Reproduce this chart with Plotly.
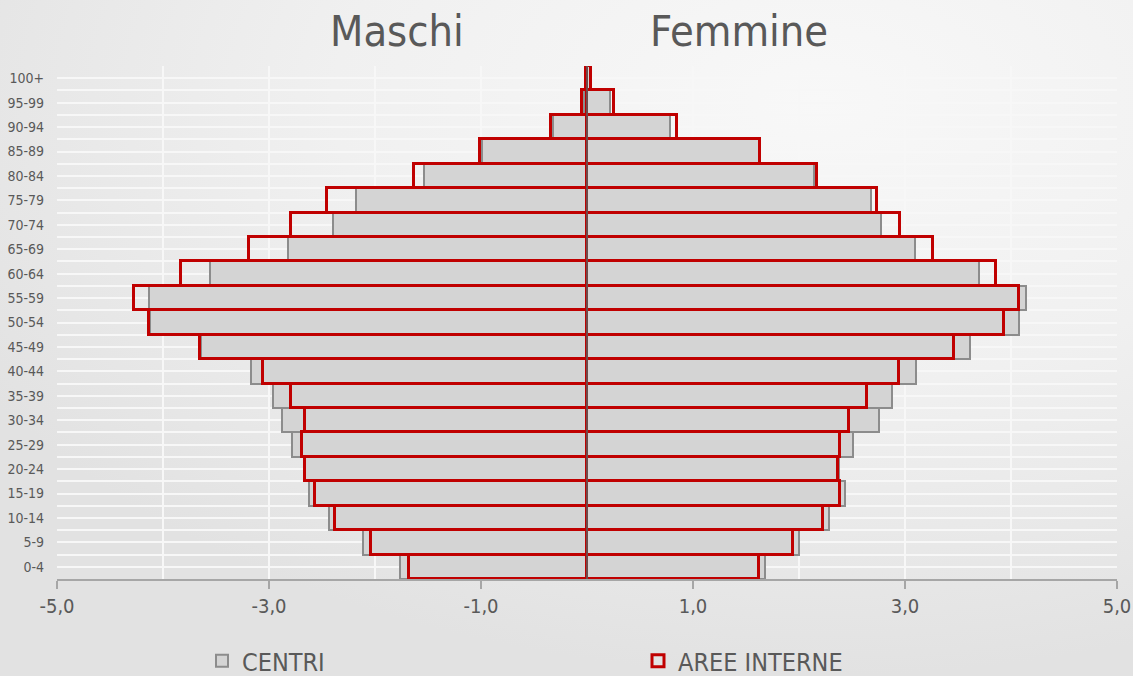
import plotly.graph_objects as go

# classi di eta', dal basso verso l'alto
eta = ["0-4", "5-9", "10-14", "15-19", "20-24", "25-29", "30-34", "35-39", "40-44",
       "45-49", "50-54", "55-59", "60-64", "65-69", "70-74", "75-79", "80-84",
       "85-89", "90-94", "95-99", "100+"]

# valori percentuali (maschi negativi)
centri_m = [-1.76, -2.11, -2.43, -2.62, -2.67, -2.78, -2.88, -2.96, -3.17, -3.64,
            -4.12, -4.13, -3.56, -2.82, -2.40, -2.18, -1.54, -0.99, -0.32, -0.03, -0.01]
centri_f = [1.68, 2.00, 2.28, 2.43, 2.38, 2.51, 2.75, 2.88, 3.10, 3.61,
            4.08, 4.14, 3.70, 3.09, 2.77, 2.68, 2.14, 1.62, 0.78, 0.22, 0.03]
aree_m = [-1.68, -2.04, -2.38, -2.57, -2.66, -2.69, -2.66, -2.79, -3.06, -3.65,
          -4.13, -4.27, -3.83, -3.19, -2.79, -2.45, -1.63, -1.01, -0.34, -0.05, -0.01]
aree_f = [1.62, 1.94, 2.23, 2.39, 2.37, 2.39, 2.47, 2.64, 2.94, 3.46,
          3.93, 4.08, 3.86, 3.26, 2.95, 2.74, 2.17, 1.63, 0.85, 0.25, 0.04]

xticks = [-5, -3, -1, 1, 3, 5]
xlabels = ["-5,0", "-3,0", "-1,0", "1,0", "3,0", "5,0"]

font = "Liberation Sans Narrow, DejaVu Sans Condensed, Arial Narrow, sans-serif"
testo = "#595959"
pos = list(range(len(eta)))

fig = go.Figure()

fig.add_trace(go.Bar(y=pos, x=centri_m, orientation="h", name="CENTRI", legend="legend",
                     marker=dict(color="#d4d4d4", line=dict(color="#8c8c8c", width=2))))
fig.add_trace(go.Bar(y=pos, x=centri_f, orientation="h", name="CENTRI", showlegend=False,
                     marker=dict(color="#d4d4d4", line=dict(color="#8c8c8c", width=2))))
fig.add_trace(go.Bar(y=pos, x=aree_m, orientation="h", name="AREE INTERNE", legend="legend2",
                     marker=dict(color="rgba(0,0,0,0)", line=dict(color="#c00000", width=3))))
fig.add_trace(go.Bar(y=pos, x=aree_f, orientation="h", name="AREE INTERNE", showlegend=False,
                     marker=dict(color="rgba(0,0,0,0)", line=dict(color="#c00000", width=3))))

# sfondo sfumato
sfondo = ("data:image/svg+xml;utf8,<svg xmlns='http://www.w3.org/2000/svg' width='1133' height='676'>"
          "<defs><radialGradient id='g' cx='0.72' cy='0.15' r='0.85'>"
          "<stop offset='0' stop-color='%23f8f8f8'/><stop offset='0.5' stop-color='%23f0f0f0'/>"
          "<stop offset='1' stop-color='%23e2e2e2'/></radialGradient></defs>"
          "<rect width='1133' height='676' fill='url(%23g)'/></svg>")

L, R, T, B = 57, 16, 66, 97
pw, ph = 1133 - L - R, 676 - T - B

fig.update_layout(
    width=1133, height=676,
    margin=dict(l=L, r=R, t=T, b=B),
    barmode="overlay", bargap=0,
    paper_bgcolor="#ececec", plot_bgcolor="rgba(0,0,0,0)",
    font=dict(family=font, color=testo),
    images=[dict(source=sfondo, xref="paper", yref="paper",
                 x=-L / pw, y=1 + T / ph, sizex=1133 / pw, sizey=676 / ph,
                 xanchor="left", yanchor="top", sizing="stretch", layer="below")],
    xaxis=dict(range=[-5, 5], tickvals=xticks, ticktext=xlabels,
               tickfont=dict(size=20, color=testo),
               showgrid=True, gridcolor="#f7f7f7", gridwidth=2,
               minor=dict(dtick=1, tick0=0, showgrid=True, gridcolor="#f7f7f7", gridwidth=2),
               zeroline=False,
               showline=True, linecolor="#a6a6a6", linewidth=2,
               ticks="outside", ticklen=8, tickcolor="#a6a6a6", tickwidth=2,
               automargin=False, fixedrange=True),
    yaxis=dict(range=[-0.5, len(eta) - 0.5], tickvals=pos, ticktext=eta,
               tickfont=dict(size=14, color=testo),
               showgrid=True, gridcolor="#f7f7f7", gridwidth=2,
               minor=dict(dtick=0.5, tick0=0.5, showgrid=True, gridcolor="#f7f7f7", gridwidth=2),
               zeroline=False, ticks="", ticklabelstandoff=12,
               automargin=False, fixedrange=True),
    legend=dict(orientation="h", xref="container", yref="container",
                x=202 / 1133, y=1 - 661 / 676, xanchor="left", yanchor="middle",
                font=dict(size=25, color=testo), bgcolor="rgba(0,0,0,0)", itemwidth=30),
    legend2=dict(orientation="h", xref="container", yref="container",
                 x=638 / 1133, y=1 - 661 / 676, xanchor="left", yanchor="middle",
                 font=dict(size=25, color=testo), bgcolor="rgba(0,0,0,0)", itemwidth=30),
    shapes=[dict(type="line", xref="x", yref="paper", x0=0, x1=0, y0=0, y1=1,
                 line=dict(color="#6e4a4a", width=2), layer="above")],
    annotations=[
        dict(text="Maschi", xref="paper", yref="paper", x=(397 - L) / pw, y=1 + (66 - 31) / ph,
             showarrow=False, xanchor="center", yanchor="middle",
             font=dict(size=43, color=testo, family=font)),
        dict(text="Femmine", xref="paper", yref="paper", x=(739 - L) / pw, y=1 + (66 - 31) / ph,
             showarrow=False, xanchor="center", yanchor="middle",
             font=dict(size=43, color=testo, family=font)),
    ],
)

fig.write_html("out.html", config={"displayModeBar": False},
               post_script="document.body.style.margin='0';document.body.style.overflow='hidden';")
